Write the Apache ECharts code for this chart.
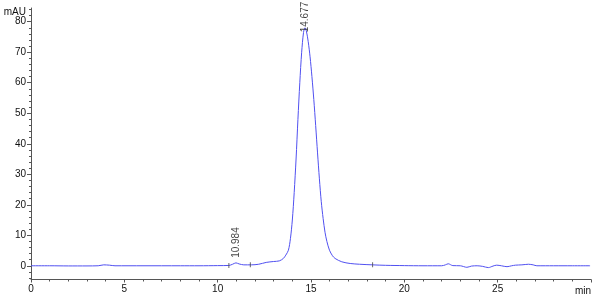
<!DOCTYPE html>
<html>
<head>
<meta charset="utf-8">
<script src="https://cdn.jsdelivr.net/npm/echarts@6/dist/echarts.min.js"></script>
<style>html,body{margin:0;padding:0;background:#fff}#c{width:600px;height:304px}</style>
</head>
<body>
<div id="c"></div>
<script>
// Chromatogram trace (time in min, signal in mAU)
var times = [0,1,2,3,3.6,3.9,4.2,4.5,6,8,9,10,10.6,10.8,10.98,11.15,11.4,11.8,12.2,12.6,13.0,13.3,13.52,13.65,13.79,13.9,14.0,14.1,14.2,14.3,14.4,14.5,14.6,14.677,14.75,14.85,14.95,15.05,15.15,15.25,15.35,15.45,15.55,15.65,15.75,15.85,15.99,16.15,16.29,16.65,17.10,17.6,18.3,19,20,21,22,22.2,22.35,22.6,23.0,23.35,23.6,23.9,24.2,24.5,24.75,24.95,25.2,25.5,25.75,25.95,26.3,26.65,26.9,27.1,28,29,29.95];
var signal = [0,0,-0.05,-0.05,0,0.3,0.2,0,0,0,0,0.05,0.1,0.5,0.95,0.6,0.3,0.3,0.5,1.1,1.4,1.6,2.4,3.5,5.1,9,15,24,35,48,60,70,76.5,78,77,73.5,68.5,62,54.5,46,37,28.5,21,15.5,11,8,5.1,3.3,2.4,1.3,0.75,0.5,0.3,0.15,0.05,0,0,0.3,0.65,0.05,0,-0.5,-0.1,0,-0.2,-0.6,-0.1,0.2,0,-0.3,0,0.2,0.3,0.5,0.3,0,0,0,0];
// Peak annotations
var peakTimes = [10.984, 14.677];
var peakHeights = [0.95, 78];
var peakNames = ['10.984', '14.677'];
// Integration markers
var markerTimes = [10.6, 11.75, 18.3];
var markerValues = [0.1, 0.3, 0.3];
// Axis ticks
var yMajor = [0,10,20,30,40,50,60,70,80];
var yMinor = [-4,-2,2,4,6,8,12,14,16,18,22,24,26,28,32,34,36,38,42,44,46,48,52,54,56,58,62,64,66,68,72,74,76,78,82,84];

var FONT = 'Liberation Sans';
var txt = '#111';
var axisCol = '#555';

var traceData = times.map(function(t,i){return [t, signal[i]];});
var labelDist = [4.5, -5];
var peakData = peakTimes.map(function(t,i){
  return {value:[t, peakHeights[i]], label:{show:true, formatter: peakNames[i], distance: labelDist[i]}};
});
var markerData = markerTimes.map(function(t,i){return [t, markerValues[i]];});

var chart = echarts.init(document.getElementById('c'), null, {renderer:'canvas'});
chart.setOption({
  animation:false,
  grid:{left:31, right:9, top:8, bottom:24.5, containLabel:false},
  xAxis:{
    type:'value', min:0, max:30, interval:5,
    name:'min', nameLocation:'end', nameGap:0,
    nameTextStyle:{align:'right', verticalAlign:'top', padding:[7,0,0,0], fontFamily:FONT, fontSize:10, color:txt},
    axisLine:{show:true, onZero:false, lineStyle:{color:axisCol, width:1}},
    axisTick:{show:true, length:3, lineStyle:{color:axisCol}},
    minorTick:{show:true, splitNumber:5, length:2, lineStyle:{color:axisCol}},
    axisLabel:{margin:5, fontFamily:FONT, fontSize:10, color:txt, formatter:function(v){return v===30?'':String(v);}},
    splitLine:{show:false}
  },
  yAxis:[{
    type:'value', min:-4.5, max:84.5,
    name:'mAU', nameLocation:'end', nameGap:-4,
    nameTextStyle:{align:'right', verticalAlign:'middle', padding:[0,5,0,0], fontFamily:FONT, fontSize:10, color:txt},
    axisLine:{show:true, onZero:false, lineStyle:{color:axisCol, width:1}},
    axisTick:{show:true, length:4, customValues:yMajor, lineStyle:{color:axisCol}},
    axisLabel:{margin:5, customValues:yMajor, fontFamily:FONT, fontSize:10, color:txt},
    splitLine:{show:false}
  },{
    type:'value', min:-4.5, max:84.5, position:'left',
    axisLine:{show:false},
    axisTick:{show:true, length:2, customValues:yMinor, lineStyle:{color:axisCol}},
    axisLabel:{show:false},
    splitLine:{show:false}
  }],
  series:[{
    type:'line', data:traceData, showSymbol:false, symbol:'none',
    smooth:0.3,
    lineStyle:{color:'#5050f0', width:1},
    z:3
  },{
    type:'scatter', data:markerData, symbol:'rect', symbolSize:[1,5],
    itemStyle:{color:'#444'}, silent:true, z:4
  },{
    type:'scatter', data:peakData, symbol:'circle', symbolSize:1, silent:true,
    itemStyle:{color:'rgba(0,0,0,0)'},
    label:{show:true, position:'top', rotate:90, align:'left', verticalAlign:'middle',
      fontFamily:FONT, fontSize:10, color:txt},
    z:5
  }]
});
</script>
</body>
</html>
